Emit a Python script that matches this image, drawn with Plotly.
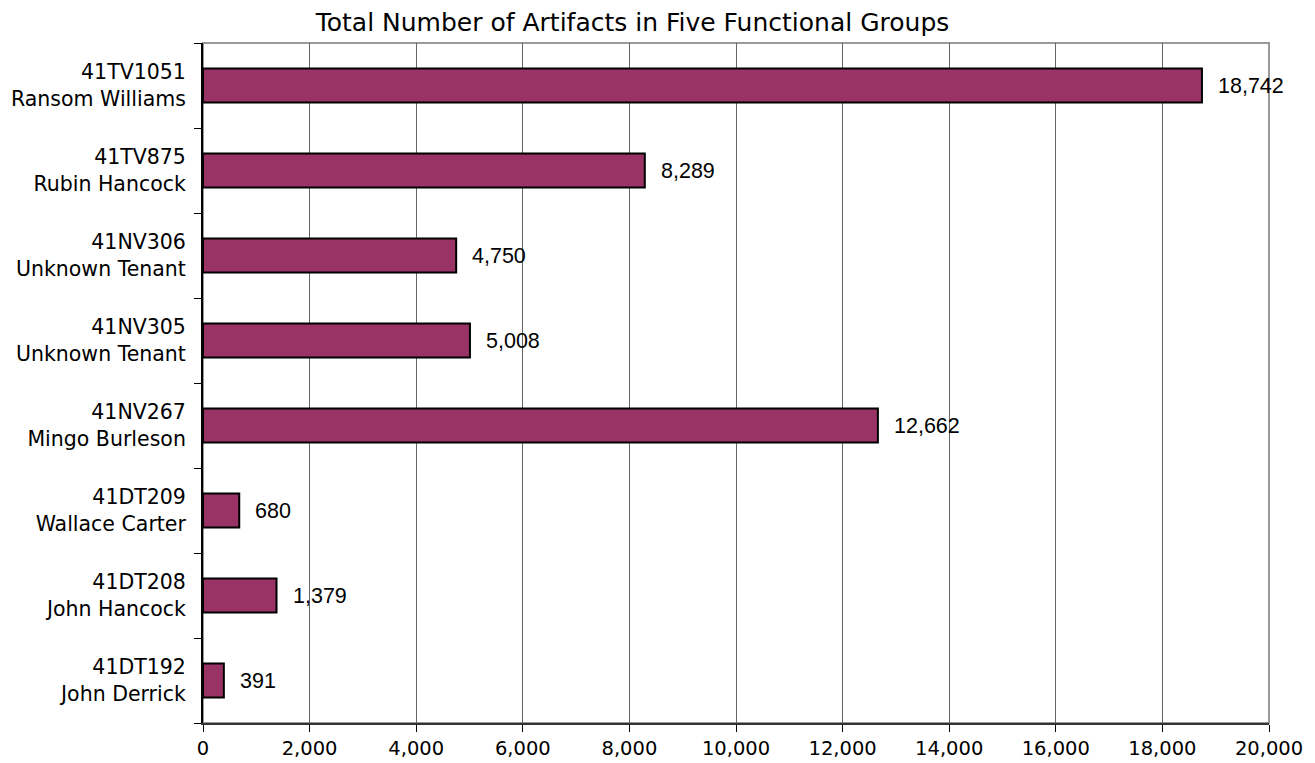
import plotly.graph_objects as go

# Sites listed bottom-to-top as they appear on the category axis
site_codes = ["41DT192", "41DT208", "41DT209", "41NV267", "41NV305", "41NV306", "41TV875", "41TV1051"]
site_names = ["John Derrick", "John Hancock", "Wallace Carter", "Mingo Burleson",
              "Unknown Tenant", "Unknown Tenant", "Rubin Hancock", "Ransom Williams"]
artifact_totals = [391, 1379, 680, 12662, 5008, 4750, 8289, 18742]

x_tick_values = [0, 2000, 4000, 6000, 8000, 10000, 12000, 14000, 16000, 18000, 20000]
x_tick_labels = ["0", "2,000", "4,000", "6,000", "8,000", "10,000", "12,000",
                 "14,000", "16,000", "18,000", "20,000"]

categories = [f"{c}<br>{n}" for c, n in zip(site_codes, site_names)]

BAR_COLOR = "#993366"
AXIS_FONT = "DejaVu Sans"

fig = go.Figure()

fig.add_trace(go.Bar(
    x=artifact_totals,
    y=categories,
    orientation="h",
    width=0.4,
    marker=dict(color=BAR_COLOR, line=dict(color="#000000", width=2)),
    hoverinfo="x+y",
    showlegend=False,
))

# Value labels to the right of each bar
for val, cat in zip(artifact_totals, categories):
    fig.add_annotation(
        x=val, y=cat, xref="x", yref="y",
        text=f"{val:,}",
        showarrow=False,
        xanchor="left", yanchor="middle",
        xshift=14,
        font=dict(family="Liberation Sans", size=21.5, color="#000000"),
    )

# Gray frame on the top and right of the plot area
fig.add_shape(type="rect", xref="paper", yref="paper", x0=0, y0=0, x1=1, y1=1,
              line=dict(color="#999999", width=2), layer="below")

fig.update_layout(
    width=1315, height=763,
    margin=dict(l=203, r=46, t=43, b=40),
    paper_bgcolor="#ffffff",
    plot_bgcolor="#ffffff",
    title=dict(
        text="Total Number of Artifacts in Five Functional Groups",
        x=0.481, xanchor="center", y=0.971, yanchor="middle",
        font=dict(family=AXIS_FONT, size=25, color="#000000"),
    ),
    xaxis=dict(
        range=[0, 20000],
        tickvals=x_tick_values,
        ticktext=x_tick_labels,
        automargin=False,
        showgrid=True, gridcolor="#666666", gridwidth=1,
        zeroline=False,
        showline=True, linecolor="#333333", linewidth=2,
        ticks="outside", ticklen=7, tickcolor="#000000",
        ticklabelstandoff=0,
        tickfont=dict(family=AXIS_FONT, size=19.5, color="#000000"),
    ),
    yaxis=dict(
        type="category",
        categoryorder="array", categoryarray=categories,
        automargin=False,
        showgrid=False,
        zeroline=False,
        showline=True, linecolor="#000000", linewidth=2,
        ticks="outside", ticklen=7, tickcolor="#000000",
        tickson="boundaries",
        ticklabelstandoff=11,
        tickfont=dict(family=AXIS_FONT, size=20.5, color="#000000"),
    ),
    bargap=0.6,
)

fig.write_html("out.html")
